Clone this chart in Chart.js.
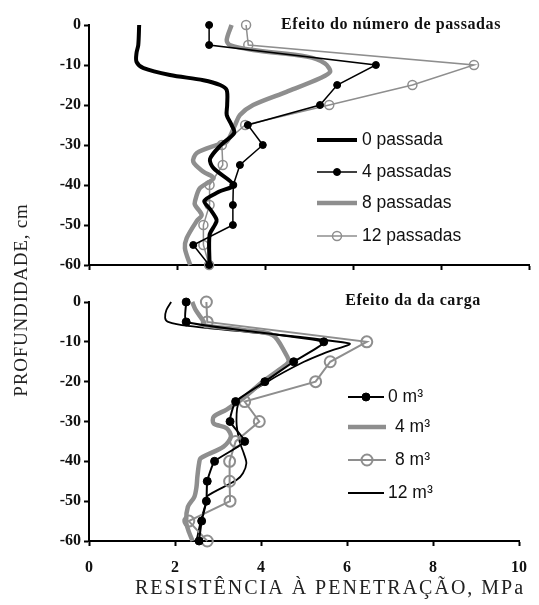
<!DOCTYPE html>
<html><head><meta charset="utf-8">
<script src="https://cdn.jsdelivr.net/npm/chart.js@4/dist/chart.umd.min.js"></script>
<style>
html,body{margin:0;padding:0;background:#fff;}
#wrap{position:relative;width:539px;height:605px;overflow:hidden;}
canvas{position:absolute;left:0;top:0;}
</style></head><body>
<div id="wrap">
<canvas id="cBottom" width="539" height="605"></canvas>
<canvas id="cTop" width="539" height="285"></canvas>
</div>
<script>
// ---------- tick labels ----------
const depthTicks = [0, -10, -20, -30, -40, -50, -60];
const resistTicks = [0, 2, 4, 6, 8, 10];

// ---------- texts ----------
const topTitle = 'Efeito do número de passadas';
const bottomTitle = 'Efeito da da carga';
const xTitle = 'RESISTÊNCIA À PENETRAÇÃO, MPa';
const yTitle = 'PROFUNDIDADE, cm';

// ---------- common depth grid (cm) for marked series ----------
const depth5 = [0, -5, -10, -15, -20, -25, -30, -35, -40, -45, -50, -55, -60];

// ---------- top panel: número de passadas ----------
const pass0Depth = [0, -5, -7, -9.2, -10.8, -12.5, -13.8, -15, -16.3, -20, -22.5, -25, -27, -30, -33.5, -35.8, -40, -41.7, -44, -46, -48.7, -50, -52.5, -60];
const pass0Val   = [1.14, 1.12, 1.08, 1.08, 1.24, 1.84, 2.6, 2.98, 3.13, 3.14, 3.13, 3.24, 3.3, 3.0, 2.75, 2.83, 3.28, 2.95, 2.62, 2.75, 2.9, 2.86, 2.74, 2.74];
const pass4Val   = [2.73, 2.73, 6.52, 5.64, 5.25, 3.61, 3.95, 3.43, 3.28, 3.27, 3.27, 2.37, 2.73];
const pass8Depth = [0, -3.75, -5, -6.25, -7.9, -9.6, -11.7, -13.3, -16.7, -20, -22.5, -25, -29.2, -30, -32, -34.2, -36.7, -38.3, -40.8, -44, -45, -47.5, -49, -53.3, -55.8, -60];
const pass8Val   = [3.24, 3.13, 3.2, 3.73, 4.95, 5.36, 5.48, 5.25, 4.49, 3.73, 3.43, 3.32, 3.13, 2.9, 2.45, 2.37, 2.6, 2.83, 2.52, 2.41, 2.41, 2.56, 2.45, 2.22, 2.18, 2.3];
const pass12Val  = [3.57, 3.62, 8.75, 7.35, 5.46, 3.55, 3.02, 3.04, 2.74, 2.74, 2.6, 2.6, 2.73];

// ---------- bottom panel: carga ----------
const load0Val   = [2.26, 2.26, 5.46, 4.76, 4.09, 3.41, 3.28, 3.62, 2.92, 2.75, 2.73, 2.62, 2.56];
const load4Depth = [0, -2, -5, -5.8, -7, -8.3, -12.9, -15, -17, -20, -24.2, -27, -28.8, -30.5, -31.7, -33.8, -36.3, -39.2, -40.5, -43.9, -46.4, -48.9, -51.4, -55.2, -57.9, -60];
const load4Val   = [2.4, 2.48, 2.67, 2.67, 3.58, 4.27, 4.57, 4.64, 4.42, 4.04, 3.58, 3.2, 2.9, 2.9, 3.2, 3.3, 3.13, 2.6, 2.56, 2.52, 2.5, 2.45, 2.3, 2.26, 2.33, 2.41];
const load8Val   = [2.73, 2.75, 6.46, 5.61, 5.27, 3.62, 3.96, 3.41, 3.27, 3.27, 3.28, 2.32, 2.75];
const load12Depth = [0, -2, -4, -5, -6, -10.4, -12.5, -15, -20, -25, -30, -35, -38, -40.5, -43, -44.7, -48.7, -50, -55, -60];
const load12Val   = [1.91, 1.8, 1.77, 1.84, 2.3, 6.05, 5.55, 5.0, 4.15, 3.5, 3.43, 3.5, 3.6, 3.66, 3.58, 3.43, 2.75, 2.73, 2.6, 2.5];

// ---------- helpers ----------
const pts = (xs, ys) => xs.map((v, i) => ({ x: v, y: ys[i] }));
const GRAY = '#8e8e8e';
const serif = '"Liberation Serif", "DejaVu Serif", serif';
const sans = '"Liberation Sans", Arial, sans-serif';

function yScale() {
  return {
    type: 'linear', min: -60, max: 0,
    afterBuildTicks: s => { s.ticks = depthTicks.map(v => ({ value: v })); },
    afterFit: s => { s.width = 89; },
    grid: { drawOnChartArea: false, drawTicks: true, tickLength: 5, tickColor: '#000', tickWidth: 2 },
    border: { display: true, color: '#000', width: 2 },
    ticks: { color: '#111', padding: 3, font: { family: serif, size: 16, weight: 'bold' }, callback: v => String(v) }
  };
}
function xScale(showLabels, h) {
  return {
    type: 'linear', min: 0, max: 10, position: 'bottom',
    afterBuildTicks: s => { s.ticks = resistTicks.map(v => ({ value: v })); },
    afterFit: s => { s.height = h; },
    grid: { drawOnChartArea: false, drawTicks: true, tickLength: 5, tickColor: '#000', tickWidth: 2 },
    border: { display: true, color: '#000', width: 2 },
    ticks: { display: showLabels, color: '#111', padding: 12, font: { family: serif, size: 16, weight: 'bold' }, callback: v => String(v) }
  };
}

// plugin: panel title, legend, axis titles
const annotPlugin = {
  id: 'annot',
  afterDraw(chart, args, opts) {
    const ctx = chart.ctx;
    ctx.save();
    (opts.texts || []).forEach(t => {
      ctx.save();
      ctx.font = t.font; ctx.fillStyle = t.color || '#111';
      if (t.spacing) ctx.letterSpacing = t.spacing;
      ctx.textAlign = t.align || 'center'; ctx.textBaseline = 'middle';
      ctx.translate(t.x, t.y);
      if (t.rot) ctx.rotate(t.rot);
      ctx.fillText(t.text, 0, 0);
      ctx.restore();
    });
    (opts.legend || []).forEach(l => {
      const ds = chart.data.datasets[l.ds];
      ctx.save();
      ctx.strokeStyle = ds.borderColor; ctx.lineWidth = ds.borderWidth;
      ctx.beginPath(); ctx.moveTo(l.x1, l.y); ctx.lineTo(l.x2, l.y); ctx.stroke();
      if (ds.pointRadius > 0) {
        ctx.beginPath();
        ctx.arc((l.x1 + l.x2) / 2, l.y, ds.pointRadius, 0, Math.PI * 2);
        ctx.fillStyle = ds.pointBackgroundColor; ctx.fill();
        ctx.lineWidth = ds.pointBorderWidth; ctx.strokeStyle = ds.pointBorderColor; ctx.stroke();
      }
      ctx.font = '17.5px ' + sans; ctx.fillStyle = '#111';
      ctx.textAlign = 'left'; ctx.textBaseline = 'middle';
      ctx.fillText(ds.label, l.tx, l.y);
      ctx.restore();
    });
    ctx.restore();
  }
};

// ---------- top chart ----------
new Chart(document.getElementById('cTop'), {
  type: 'scatter',
  data: {
    datasets: [
      { label: '0 passada', data: pts(pass0Val, pass0Depth), showLine: true, borderColor: '#000', borderWidth: 4, pointRadius: 0, tension: 0.3 },
      { label: '4 passadas', data: pts(pass4Val, depth5), showLine: true, borderColor: '#000', borderWidth: 1.5, pointRadius: 3.5, pointBackgroundColor: '#000', pointBorderColor: '#000', pointBorderWidth: 1, tension: 0 },
      { label: '8 passadas', data: pts(pass8Val, pass8Depth), showLine: true, borderColor: GRAY, borderWidth: 4.5, pointRadius: 0, tension: 0.3 },
      { label: '12 passadas', data: pts(pass12Val, depth5), showLine: true, borderColor: GRAY, borderWidth: 1.5, pointRadius: 4.5, pointBackgroundColor: 'rgba(255,255,255,0)', pointBorderColor: GRAY, pointBorderWidth: 1.5, tension: 0 }
    ]
  },
  options: {
    responsive: false, animation: false, devicePixelRatio: 1,
    layout: { padding: { left: 0, top: 25, right: 10, bottom: 0 } },
    scales: { x: xScale(false, 20), y: yScale() },
    plugins: {
      legend: { display: false }, tooltip: { enabled: false },
      annot: {
        texts: [{ text: topTitle, x: 391, y: 25, font: 'bold 16px ' + serif, spacing: '0.6px' }],
        legend: [
          { ds: 0, x1: 317, x2: 357, y: 140, tx: 362 },
          { ds: 1, x1: 317, x2: 357, y: 172, tx: 362 },
          { ds: 2, x1: 317, x2: 357, y: 203, tx: 362 },
          { ds: 3, x1: 317, x2: 357, y: 236, tx: 362 }
        ]
      }
    },
    datasets: { scatter: { clip: false } }
  },
  plugins: [annotPlugin]
});

// ---------- bottom chart ----------
new Chart(document.getElementById('cBottom'), {
  type: 'scatter',
  data: {
    datasets: [
      { label: '0 m³', data: pts(load0Val, depth5), showLine: true, borderColor: '#000', borderWidth: 2, pointRadius: 4, pointBackgroundColor: '#000', pointBorderColor: '#000', pointBorderWidth: 1, tension: 0.15 },
      { label: '4 m³', data: pts(load4Val, load4Depth), showLine: true, borderColor: GRAY, borderWidth: 4.5, pointRadius: 0, tension: 0.3 },
      { label: '8 m³', data: pts(load8Val, depth5), showLine: true, borderColor: GRAY, borderWidth: 2, pointRadius: 5.5, pointBackgroundColor: 'rgba(255,255,255,0)', pointBorderColor: GRAY, pointBorderWidth: 2, tension: 0 },
      { label: '12 m³', data: pts(load12Val, load12Depth), showLine: true, borderColor: '#000', borderWidth: 1.8, pointRadius: 0, tension: 0.3 }
    ]
  },
  options: {
    responsive: false, animation: false, devicePixelRatio: 1,
    layout: { padding: { left: 0, top: 302, right: 10, bottom: 0 } },
    scales: { x: xScale(true, 64), y: yScale() },
    plugins: {
      legend: { display: false }, tooltip: { enabled: false },
      annot: {
        texts: [
          { text: bottomTitle, x: 413, y: 301, font: 'bold 16px ' + serif, spacing: '0.6px' },
          { text: xTitle, x: 330, y: 589, font: '20px ' + serif, color: '#222', spacing: '2px' },
          { text: yTitle, x: 22, y: 300, font: '19px ' + serif, color: '#222', spacing: '0.8px', rot: -Math.PI / 2 }
        ],
        legend: [
          { ds: 0, x1: 348, x2: 384, y: 397, tx: 388 },
          { ds: 1, x1: 348, x2: 386, y: 427, tx: 395 },
          { ds: 2, x1: 348, x2: 386, y: 460, tx: 395 },
          { ds: 3, x1: 348, x2: 384, y: 493, tx: 388 }
        ]
      }
    },
    datasets: { scatter: { clip: false } }
  },
  plugins: [annotPlugin]
});
</script>
</body></html>
